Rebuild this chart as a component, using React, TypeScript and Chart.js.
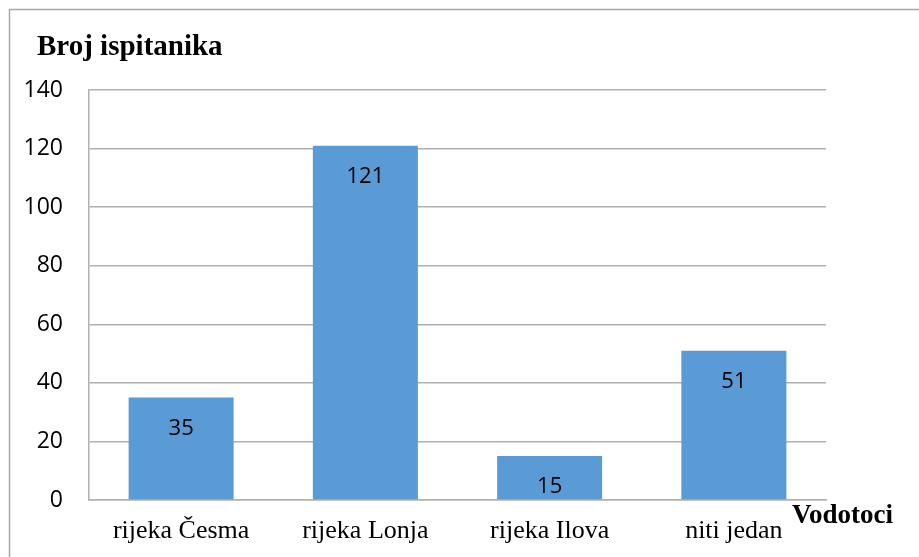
import React, { useEffect, useRef } from "react";
import { Chart, registerables } from "chart.js";

Chart.register(...registerables);

const categories = ["rijeka Česma", "rijeka Lonja", "rijeka Ilova", "niti jedan"];
const values = [35, 121, 15, 51];
const yTitle = "Broj ispitanika";
const xTitle = "Vodotoci";

const decorPlugin = {
  id: "decor",
  beforeDraw(chart: any) {
    const ctx = chart.ctx;
    ctx.save();
    ctx.strokeStyle = "#a6a6a6";
    ctx.lineWidth = 1.5;
    ctx.beginPath();
    ctx.moveTo(9.5, chart.height + 5);
    ctx.lineTo(9.5, 9.5);
    ctx.lineTo(chart.width + 5, 9.5);
    ctx.stroke();
    ctx.restore();
  },
  afterDraw(chart: any) {
    const ctx = chart.ctx;
    const area = chart.chartArea;
    ctx.save();
    ctx.fillStyle = "#000";
    ctx.textAlign = "left";
    ctx.textBaseline = "alphabetic";
    ctx.font = "bold 29px 'Liberation Serif', 'Times New Roman', serif";
    ctx.fillText(yTitle, 37, 55);
    ctx.font = "bold 27px 'Liberation Serif', 'Times New Roman', serif";
    ctx.fillText(xTitle, area.right - 34, area.bottom + 23);

    const meta = chart.getDatasetMeta(0);
    ctx.font = "22px 'Open Sans', sans-serif";
    ctx.textAlign = "center";
    ctx.textBaseline = "middle";
    meta.data.forEach((bar: any, i: number) => {
      ctx.fillText(String(values[i]), bar.x, bar.y + 31);
    });
    ctx.restore();
  },
};

export default function App() {
  const ref = useRef<HTMLCanvasElement>(null);
  useEffect(() => {
    document.body.style.margin = "0";
    const canvas = ref.current!;
    const chart = new Chart(canvas, {
      type: "bar",
      data: {
        labels: categories,
        datasets: [
          {
            data: values,
            backgroundColor: "#5b9bd5",
            borderWidth: 0,
            barPercentage: 0.57,
            categoryPercentage: 1,
          },
        ],
      },
      options: {
        responsive: false,
        animation: false,
        layout: { padding: { left: 10, top: 90, right: 93, bottom: 0 } },
        plugins: {
          legend: { display: false },
          tooltip: { enabled: false },
          title: { display: false },
        },
        scales: {
          x: {
            grid: { display: false, drawTicks: false, tickLength: 0 },
            border: { display: true, color: "#b0b0b0", width: 1.5 },
            ticks: {
              color: "#000",
              padding: 16,
              maxRotation: 0,
              autoSkip: false,
              font: { family: "'Liberation Serif', 'Times New Roman', serif", size: 26 },
            },
            afterFit: (scale: any) => {
              scale.height = 57;
            },
          },
          y: {
            min: 0,
            max: 140,
            grid: { color: "#b0b0b0", lineWidth: 1.5, drawTicks: false, tickLength: 0 },
            border: { display: true, color: "#b0b0b0", width: 1.5 },
            ticks: {
              stepSize: 20,
              color: "#000",
              padding: 26,
              font: { family: "'Open Sans', sans-serif", size: 23 },
            },
            afterFit: (scale: any) => {
              scale.width = 79;
            },
          },
        },
      },
      plugins: [decorPlugin],
    });
    return () => chart.destroy();
  }, []);
  return (
    <div style={{ width: 919, height: 557 }}>
      <canvas ref={ref} width={919} height={557} style={{ display: "block" }} />
    </div>
  );
}
